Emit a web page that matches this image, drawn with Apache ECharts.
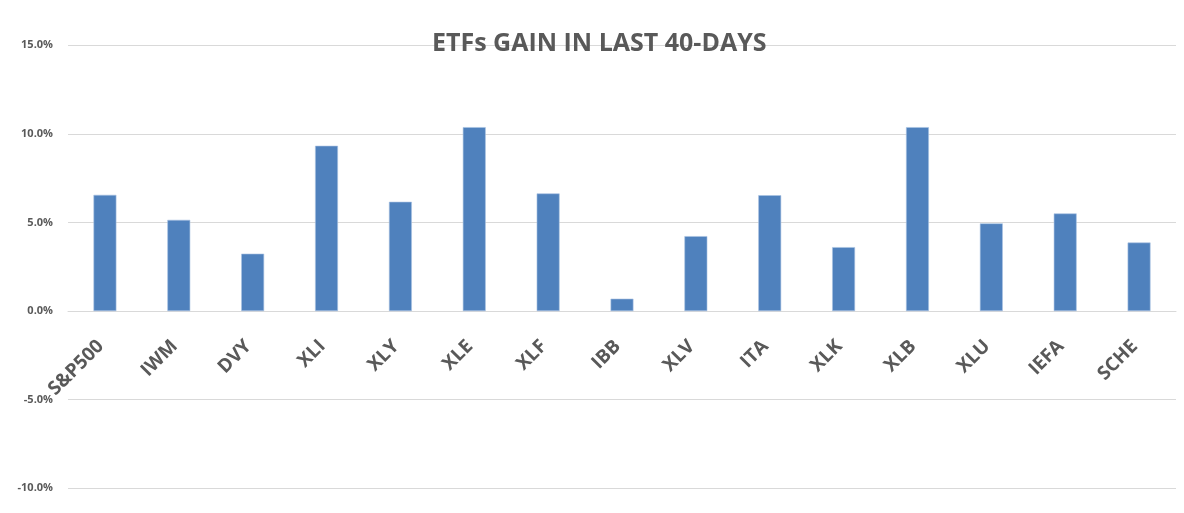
<!DOCTYPE html>
<html>
<head>
<meta charset="utf-8">
<script src="https://cdn.jsdelivr.net/npm/echarts@6/dist/echarts.min.js"></script>
<style>
html,body{margin:0;padding:0;background:#fff;}
#chart{width:1184px;height:513px;}
</style>
</head>
<body>
<div id="chart"></div>
<script>
const categories = ['S&P500','IWM','DVY','XLI','XLY','XLE','XLF','IBB','XLV','ITA','XLK','XLB','XLU','IEFA','SCHE'];
const gains = [6.56, 5.15, 3.24, 9.33, 6.17, 10.38, 6.64, 0.70, 4.23, 6.54, 3.61, 10.38, 4.95, 5.51, 3.87];
const titleText = 'ETFs GAIN IN LAST 40-DAYS';
const yMin = -10, yMax = 15, yInterval = 5;

const W = 1184, H = 513;
const gridTop = 45.3, gridBottom = 24.7;
const plotH = H - gridTop - gridBottom;
// move category axis from the bottom of the grid up to the zero line
const zeroOffset = -plotH * (0 - yMin) / (yMax - yMin);

const chart = echarts.init(document.getElementById('chart'));
chart.setOption({
  animation: false,
  backgroundColor: '#ffffff',
  title: {
    text: titleText,
    left: 427,
    top: 26,
    textStyle: {
      fontFamily: 'Open Sans',
      fontWeight: 'bold',
      fontSize: 25,
      color: '#595959'
    }
  },
  grid: { left: 68, right: 8, top: gridTop, bottom: gridBottom, containLabel: false, outerBoundsMode: 'none' },
  xAxis: {
    type: 'category',
    data: categories,
    position: 'bottom',
    offset: zeroOffset,
    axisLine: { show: true, onZero: false, lineStyle: { color: '#d9d9d9', width: 1 } },
    axisTick: { show: false },
    axisLabel: {
      rotate: 45,
      margin: 28,
      padding: [0, 6, 0, 0],
      interval: 0,
      fontFamily: 'Open Sans',
      fontWeight: 'bold',
      fontSize: 19,
      color: '#595959'
    }
  },
  yAxis: {
    type: 'value',
    min: yMin,
    max: yMax,
    interval: yInterval,
    axisLine: { show: false },
    axisTick: { show: false },
    splitLine: { lineStyle: { color: '#d9d9d9', width: 1 } },
    axisLabel: {
      margin: 15,
      fontFamily: 'Open Sans',
      fontWeight: 'bold',
      fontSize: 11,
      color: '#595959',
      formatter: v => v.toFixed(1) + '%'
    }
  },
  series: [{
    type: 'bar',
    data: gains,
    barWidth: '31%',
    itemStyle: { color: '#4f81bd', borderColor: '#a9c3e3', borderWidth: 0.6 }
  }]
});
</script>
</body>
</html>
